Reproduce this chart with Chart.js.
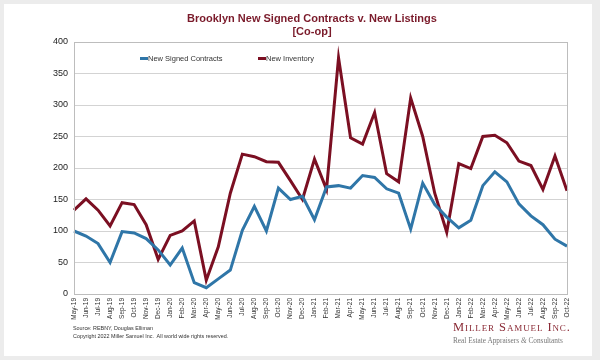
<!DOCTYPE html>
<html>
<head>
<meta charset="utf-8">
<script src="https://cdn.jsdelivr.net/npm/chart.js@4/dist/chart.umd.min.js"></script>
<style>
    html, body { margin: 0; padding: 0; }
    body { width: 600px; height: 360px; background: #ececec; position: relative; overflow: hidden; font-family: "Liberation Sans", Arial, sans-serif; }
    #card { position: absolute; left: 4px; top: 4px; width: 588px; height: 352px; background: #fff; }
    #chartBox { position: absolute; left: 0; top: 0; width: 600px; height: 360px; }
    .title { position: absolute; left: 112px; width: 400px; text-align: center; font-weight: bold; font-size: 11px; color: #7a1a2a; line-height: 13px; }
    .legend { position: absolute; top: 54px; font-size: 7.5px; color: #333; line-height: 9px; white-space: nowrap; }
    .legend i { display: inline-block; width: 8px; height: 3px; vertical-align: middle; position: relative; top: -1px; }
    .foot { position: absolute; left: 73px; font-size: 5.4px; color: #333; white-space: nowrap; }
    .logo { position: absolute; left: 453px; top: 320px; font-family: "Liberation Serif", serif; font-variant: small-caps; font-size: 12.5px; line-height: 15px; color: #8a2a35; white-space: nowrap; letter-spacing: 0.9px; }
    .tag { position: absolute; left: 453px; top: 336px; font-family: "Liberation Serif", serif; font-size: 7.3px; color: #777; white-space: nowrap; }
</style>
</head>
<body>
<div id="card"></div>
<div id="chartBox"><canvas id="contractsChart" width="600" height="360"></canvas></div>
<div class="title" style="top:12px;">Brooklyn New Signed Contracts v. New Listings</div>
<div class="title" style="top:25px;">[Co-op]</div>
<div class="legend" style="left:140px;"><i style="background:#2f76a8"></i>New Signed Contracts</div>
<div class="legend" style="left:258px;"><i style="background:#7b0f22"></i>New Inventory</div>
<div class="foot" style="top:325px;">Source: REBNY, Douglas Elliman</div>
<div class="foot" style="top:333px;">Copyright 2022 Miller Samuel Inc.&nbsp; All world wide rights reserved.</div>
<div class="logo">Miller Samuel Inc.</div>
<div class="tag">Real Estate Appraisers <i>&amp;</i> Consultants</div>

<script>
// Months on the x axis
const months = [
    'May-19','Jun-19','Jul-19','Aug-19','Sep-19','Oct-19','Nov-19','Dec-19',
    'Jan-20','Feb-20','Mar-20','Apr-20','May-20','Jun-20','Jul-20','Aug-20','Sep-20','Oct-20','Nov-20','Dec-20',
    'Jan-21','Feb-21','Mar-21','Apr-21','May-21','Jun-21','Jul-21','Aug-21','Sep-21','Oct-21','Nov-21','Dec-21',
    'Jan-22','Feb-22','Mar-22','Apr-22','May-22','Jun-22','Jul-22','Aug-22','Sep-22','Oct-22'
];

// New signed contracts (blue)
const newContracts = [
    100, 92, 80, 50, 99, 97, 88, 70,
    46, 73, 18, 10, 24, 38, 101, 139, 100, 168, 150, 155,
    118, 170, 172, 168, 188, 185, 167, 160, 103, 176, 142, 122,
    105, 117, 172, 194, 178, 143, 124, 110, 87, 76
];

// New inventory (red)
const newInventory = [
    133, 151, 133, 108, 145, 142, 110, 55,
    93, 100, 116, 22, 75, 160, 222, 218, 210, 209, 180, 150,
    214, 166, 375, 248, 238, 288, 191, 178, 311, 250, 160, 98,
    207, 199, 250, 252, 240, 211, 204, 166, 219, 164
];

// y axis ticks
const yTicks = [0, 50, 100, 150, 200, 250, 300, 350, 400];

// Draw the box around the plot area
const frameBox = {
    id: 'frameBox',
    afterDraw(chart) {
        const { ctx, chartArea: a } = chart;
        ctx.save();
        ctx.strokeStyle = '#bdbdbd';
        ctx.lineWidth = 1;
        ctx.strokeRect(a.left + 0.5, a.top + 0.5, a.right - a.left, a.bottom - a.top);
        ctx.restore();
    }
};

const ctx = document.getElementById('contractsChart').getContext('2d');

const contractsChart = new Chart(ctx, {
    type: 'line',
    data: {
        labels: months,
        datasets: [
            {
                label: 'New Signed Contracts',
                data: newContracts,
                borderColor: '#2f76a8',
                backgroundColor: '#2f76a8',
                borderWidth: 3,
                pointRadius: 0,
                tension: 0
            },
            {
                label: 'New Inventory',
                data: newInventory,
                borderColor: '#7b0f22',
                backgroundColor: '#7b0f22',
                borderWidth: 3,
                pointRadius: 0,
                tension: 0
            }
        ]
    },
    options: {
        responsive: false,
        animation: false,
        layout: {
            padding: { left: 0, right: 33, top: 42, bottom: 0 }
        },
        plugins: {
            legend: { display: false },
            title: { display: false },
            tooltip: { enabled: false }
        },
        scales: {
            x: {
                offset: false,
                afterFit: (scale) => { scale.height = 66; },
                grid: { display: false, drawTicks: true, tickLength: 3, color: '#999' },
                border: { color: '#999' },
                ticks: {
                    autoSkip: false,
                    maxRotation: 90,
                    minRotation: 90,
                    padding: 1,
                    color: '#333',
                    font: { family: 'Liberation Sans', size: 6.5 }
                }
            },
            y: {
                min: 0,
                max: 400,
                afterFit: (scale) => { scale.width = 74; },
                afterBuildTicks: (scale) => { scale.ticks = yTicks.map(v => ({ value: v })); },
                grid: { color: '#d3d3d3', drawTicks: false },
                border: { color: '#999' },
                ticks: {
                    padding: 6,
                    color: '#222',
                    font: { family: 'Liberation Sans', size: 9 }
                }
            }
        }
    },
    plugins: [frameBox]
});
</script>
</body>
</html>
